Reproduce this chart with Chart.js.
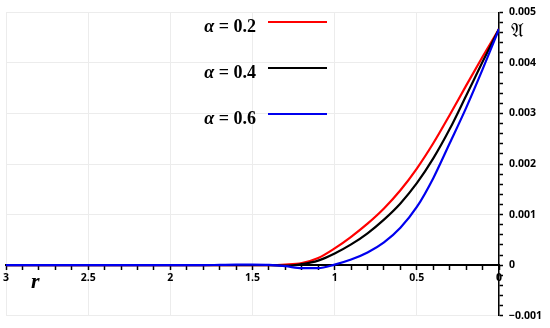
<!DOCTYPE html>
<html>
<head>
<meta charset="utf-8">
<script src="https://cdn.jsdelivr.net/npm/chart.js@4/dist/chart.umd.min.js"></script>
<style>
  html, body { margin: 0; padding: 0; background: #fff; }
  #wrap { position: relative; width: 550px; height: 328px; overflow: hidden; }
  #wrap canvas { position: absolute; left: 0; top: 0; }
  .leg { position: absolute; right: 294px; font-family: "Liberation Serif", serif; font-size: 18px; font-weight: bold; line-height: 20px; white-space: nowrap; color: #000; }
  .leg i { font-style: italic; }
  .swatch { position: absolute; left: 268px; width: 59px; height: 2px; }
  .axlabel { position: absolute; color: #000; font-family: "Liberation Serif", "DejaVu Serif", serif; }
</style>
</head>
<body>
<div id="wrap">
  <canvas id="c" width="550" height="328"></canvas>
  <div id="legend"></div>
  <div class="axlabel" style="left:31px; top:268px; font-size:22px; font-style:italic; font-weight:bold;">r</div>
  <div class="axlabel" style="left:511px; top:19px; font-size:19px; font-family:'DejaVu Sans', 'DejaVu Serif', serif;">𝔄</div>
</div>
<script>
// radial coordinate, shared by all three curves
const rValues = [0, 0.1, 0.2, 0.3, 0.4, 0.5, 0.6, 0.7, 0.8, 0.9, 1.0, 1.1, 1.2, 1.3, 1.4, 1.5, 1.6, 1.7, 1.8, 2.0, 2.5, 3.0];

const alpha02 = [0.00467, 0.00412, 0.00355, 0.00297, 0.00241, 0.00191, 0.00148, 0.00112, 0.00082, 0.00056, 0.00033, 0.00014, 0.00004, 0.00001, 0, 0, 0, 0, 0, 0, 0, 0];
const alpha04 = [0.00467, 0.00402, 0.00335, 0.00269, 0.00211, 0.00162, 0.00122, 0.00090, 0.00063, 0.00041, 0.00023, 0.00009, 0.00002, -0.00001, 0, 0, 0, 0, 0, 0, 0, 0];
const alpha06 = [0.00467, 0.00387, 0.00311, 0.00241, 0.00172, 0.00115, 0.00074, 0.00045, 0.00025, 0.00011, 0.00001, -0.00006, -0.00006, -0.00002, 0.000005, 0.00001, 0.00001, 0.000005, 0, 0, 0, 0];

const alphaLabels = ["0.2", "0.4", "0.6"];
const seriesColors = ["#ff0000", "#000000", "#0000ee"];

const xMajorTicks = [3, 2.5, 2, 1.5, 1, 0.5, 0];
const xTickLabels = ["3", "2.5", "2", "1.5", "1", "0.5", "0"];
const yMajorTicks = [0.005, 0.004, 0.003, 0.002, 0.001, 0, -0.001];
const yTickLabels = ["0.005", "0.004", "0.003", "0.002", "0.001", "0", "\u22120.001"];

const TICK_FONT = { family: "'Open Sans', sans-serif", size: 10.5, weight: "bold" };
const GRID = "#ececec";

function majorIndex(list, v, eps) {
  return list.findIndex((m) => Math.abs(m - v) < eps);
}

const series = [alpha02, alpha04, alpha06];

// blue goes first so it sits on top where the curves overlap along zero
const datasets = series
  .map((ys, i) => ({
    label: "α = " + alphaLabels[i],
    data: ys.map((y, k) => ({ x: rValues[k], y })),
    borderColor: seriesColors[i],
    backgroundColor: seriesColors[i],
    borderWidth: 2.2,
    pointRadius: 0,
    cubicInterpolationMode: "monotone",
    fill: false,
  }))
  .reverse();

new Chart(document.getElementById("c"), {
  type: "line",
  data: { datasets },
  options: {
    responsive: false,
    animation: false,
    layout: { padding: { left: 6, top: 7, right: 0, bottom: 12 } },
    plugins: { legend: { display: false }, tooltip: { enabled: false } },
    scales: {
      x: {
        type: "linear",
        min: 0,
        max: 3,
        reverse: true,
        position: { y: 0 },
        ticks: {
          stepSize: 0.1,
          autoSkip: false,
          maxRotation: 0,
          padding: 3,
          color: "#000",
          font: TICK_FONT,
          callback: (v) => {
            const i = majorIndex(xMajorTicks, v, 1e-6);
            return i < 0 ? "" : xTickLabels[i];
          },
        },
        grid: {
          drawOnChartArea: true,
          color: (ctx) => (ctx.tick && majorIndex(xMajorTicks, ctx.tick.value, 1e-6) >= 0 ? GRID : "rgba(0,0,0,0)"),
          tickColor: "#000",
          tickLength: 4,
          tickWidth: 1.5,
        },
        border: { display: true, color: "#000", width: 2 },
      },
      y: {
        type: "linear",
        min: -0.001,
        max: 0.005,
        position: "right",
        afterFit: (s) => { s.width = 51; },
        ticks: {
          stepSize: 0.0002,
          autoSkip: false,
          padding: 6,
          color: "#000",
          font: TICK_FONT,
          callback: (v) => {
            const i = majorIndex(yMajorTicks, v, 1e-9);
            return i < 0 ? "" : yTickLabels[i];
          },
        },
        grid: {
          drawOnChartArea: true,
          color: (ctx) => (ctx.tick && majorIndex(yMajorTicks, ctx.tick.value, 1e-9) >= 0 ? GRID : "rgba(0,0,0,0)"),
          tickColor: "#000",
          tickLength: 4,
          tickWidth: 1.5,
        },
        border: { display: true, color: "#000", width: 1.5 },
      },
    },
  },
});

// legend: label on the left, line sample on the right
const legend = document.getElementById("legend");
const legendTops = [16, 62, 108];
alphaLabels.forEach((a, i) => {
  const t = document.createElement("div");
  t.className = "leg";
  t.style.top = legendTops[i] + "px";
  t.innerHTML = "<i>α</i> = " + a;
  legend.appendChild(t);
  const s = document.createElement("div");
  s.className = "swatch";
  s.style.top = legendTops[i] + 5 + "px";
  s.style.background = seriesColors[i];
  legend.appendChild(s);
});
</script>
</body>
</html>
